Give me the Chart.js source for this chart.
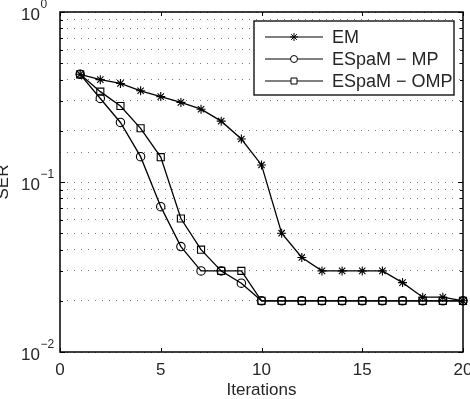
<!DOCTYPE html>
<html>
<head>
<meta charset="utf-8">
<script src="https://cdn.jsdelivr.net/npm/chart.js@4.4.1/dist/chart.umd.min.js"></script>
<style>
html,body{margin:0;padding:0;background:#fff;}
#wrap{width:470px;height:399px;position:relative;}
</style>
</head>
<body>
<div id="wrap"><canvas id="c" width="470" height="399"></canvas></div>
<script>
const iterations = [1,2,3,4,5,6,7,8,9,10,11,12,13,14,15,16,17,18,19,20];
const seriesNames = ['EM', 'ESpaM \u2212 MP', 'ESpaM \u2212 OMP'];
const emValues  = [0.43,0.40,0.38,0.344,0.318,0.294,0.268,0.228,0.179,0.126,0.050,0.036,0.030,0.030,0.030,0.030,0.0256,0.021,0.021,0.020];
const mpValues  = [0.43,0.31,0.224,0.141,0.0716,0.0417,0.030,0.030,0.0254,0.020,0.020,0.020,0.020,0.020,0.020,0.020,0.020,0.020,0.020,0.020];
const ompValues = [0.43,0.34,0.28,0.207,0.14,0.061,0.040,0.030,0.030,0.020,0.020,0.020,0.020,0.020,0.020,0.020,0.020,0.020,0.020,0.020];
const xTicks = [0,5,10,15,20];
const yExponents = [-2,-1,0];
const xTitle = 'Iterations';
const yTitle = 'SER';

const FONT = '"Liberation Sans", Arial, Helvetica, sans-serif';
const TXT = '#262626';

function pts(vals){ return iterations.map((x,i)=>({x:x,y:vals[i]})); }

function drawMarker(ctx, style, x, y, r){
  ctx.beginPath();
  if(style==='star'){
    ctx.moveTo(x-r,y); ctx.lineTo(x+r,y);
    ctx.moveTo(x,y-r); ctx.lineTo(x,y+r);
    const d=r*Math.SQRT1_2;
    ctx.moveTo(x-d,y-d); ctx.lineTo(x+d,y+d);
    ctx.moveTo(x-d,y+d); ctx.lineTo(x+d,y-d);
    ctx.stroke();
  } else if(style==='circle'){
    ctx.arc(x,y,r,0,Math.PI*2); ctx.stroke();
  } else {
    ctx.rect(x-r,y-r,2*r,2*r); ctx.stroke();
  }
}

const framePlugin = {
  id:'frame',
  beforeDatasetsDraw(chart){
    const {ctx, chartArea:a, scales} = chart;
    ctx.save();
    ctx.strokeStyle='#000'; ctx.lineWidth=1;
    ctx.beginPath();
    xTicks.forEach(v=>{
      const px = Math.round(scales.x.getPixelForValue(v))+0.5;
      ctx.moveTo(px,a.bottom); ctx.lineTo(px,a.bottom-4);
      ctx.moveTo(px,a.top); ctx.lineTo(px,a.top+4);
    });
    yExponents.forEach(e=>{
      for(let m=1;m<=9;m++){
        const v=m*Math.pow(10,e);
        if(v>1.0001) break;
        const py=Math.round(scales.y.getPixelForValue(v))+0.5;
        const len = m===1?5:3;
        ctx.moveTo(a.left,py); ctx.lineTo(a.left+len,py);
        ctx.moveTo(a.right,py); ctx.lineTo(a.right-len,py);
      }
    });
    ctx.stroke();
    ctx.lineWidth=1.5;
    ctx.strokeRect(a.left, a.top, a.right-a.left, a.bottom-a.top);
    ctx.restore();
  },
  afterDraw(chart){
    const {ctx, chartArea:a, scales} = chart;
    ctx.save();
    ctx.fillStyle=TXT;
    ctx.font='17px '+FONT; ctx.textAlign='center'; ctx.textBaseline='middle';
    xTicks.forEach(v=>{ ctx.fillText(String(v), scales.x.getPixelForValue(v), 370); });
    ctx.fillText(xTitle, (a.left+a.right)/2, 390);
    yExponents.forEach(e=>{
      const py = scales.y.getPixelForValue(Math.pow(10,e));
      ctx.font='17px '+FONT; ctx.textAlign='right'; ctx.textBaseline='middle';
      ctx.fillText('10', 40, py+3);
      ctx.font='12px '+FONT; ctx.textAlign='left';
      const sup = e<0 ? '\u2212'+Math.abs(e) : String(e);
      ctx.fillText(sup, 40.5, py-7);
    });
    ctx.save();
    ctx.translate(8, (a.top+a.bottom)/2);
    ctx.rotate(-Math.PI/2);
    ctx.font='17px '+FONT; ctx.textAlign='center'; ctx.textBaseline='alphabetic';
    ctx.fillText(yTitle, 0, 0);
    ctx.restore();
    // legend
    const bx=254, by=21, bw=200, bh=74;
    ctx.fillStyle='#fff';
    ctx.fillRect(bx,by,bw,bh);
    ctx.strokeStyle='#000'; ctx.lineWidth=1.3;
    ctx.strokeRect(bx,by,bw,bh);
    const rows=[37,59,81];
    const styles=['star','circle','rect'];
    const rads=[4,3.5,3];
    chart.data.datasets.forEach((ds,i)=>{
      const y=rows[i];
      ctx.strokeStyle='#000'; ctx.lineWidth=1.2;
      ctx.beginPath(); ctx.moveTo(265,y); ctx.lineTo(323,y); ctx.stroke();
      ctx.fillStyle='#fff';
      if(styles[i]!=='star'){ ctx.beginPath(); if(styles[i]==='circle') ctx.arc(294,y,rads[i],0,7); else ctx.rect(294-rads[i],y-rads[i],2*rads[i],2*rads[i]); ctx.fill(); }
      ctx.lineWidth=1;
      drawMarker(ctx, styles[i], 294, y, rads[i]);
      ctx.fillStyle=TXT; ctx.font='18px '+FONT; ctx.textAlign='left'; ctx.textBaseline='middle';
      ctx.fillText(ds.label, 332, y+1);
    });
    ctx.restore();
  }
};

const common = {borderColor:'#000', borderWidth:1.3, pointBorderColor:'#000', pointBorderWidth:1.1, pointBackgroundColor:'rgba(0,0,0,0)', tension:0, clip:false, fill:false};

new Chart(document.getElementById('c'), {
  type:'line',
  data:{
    datasets:[
      Object.assign({label:seriesNames[0], data:pts(emValues), pointStyle:'star', pointRadius:4.5}, common),
      Object.assign({label:seriesNames[1], data:pts(mpValues), pointStyle:'circle', pointRadius:4.2}, common),
      Object.assign({label:seriesNames[2], data:pts(ompValues), pointStyle:'rect', pointRadius:5}, common)
    ]
  },
  options:{
    responsive:false, animation:false, devicePixelRatio:1,
    layout:{padding:{top:12,right:7,left:0,bottom:0}},
    plugins:{legend:{display:false}, tooltip:{enabled:false}},
    elements:{point:{hoverRadius:0}},
    scales:{
      x:{type:'linear', min:0, max:20,
        grid:{display:false, drawTicks:false}, border:{display:false},
        ticks:{display:false},
        afterFit(s){ s.height=47; }
      },
      y:{type:'logarithmic', min:0.01, max:1,
        grid:{display:true, drawTicks:false, color:'rgba(60,60,60,0.7)', lineWidth:1},
        border:{display:false, dash:[1,6]},
        ticks:{display:false},
        afterFit(s){ s.width=60; }
      }
    }
  },
  plugins:[framePlugin]
});
</script>
</body>
</html>
